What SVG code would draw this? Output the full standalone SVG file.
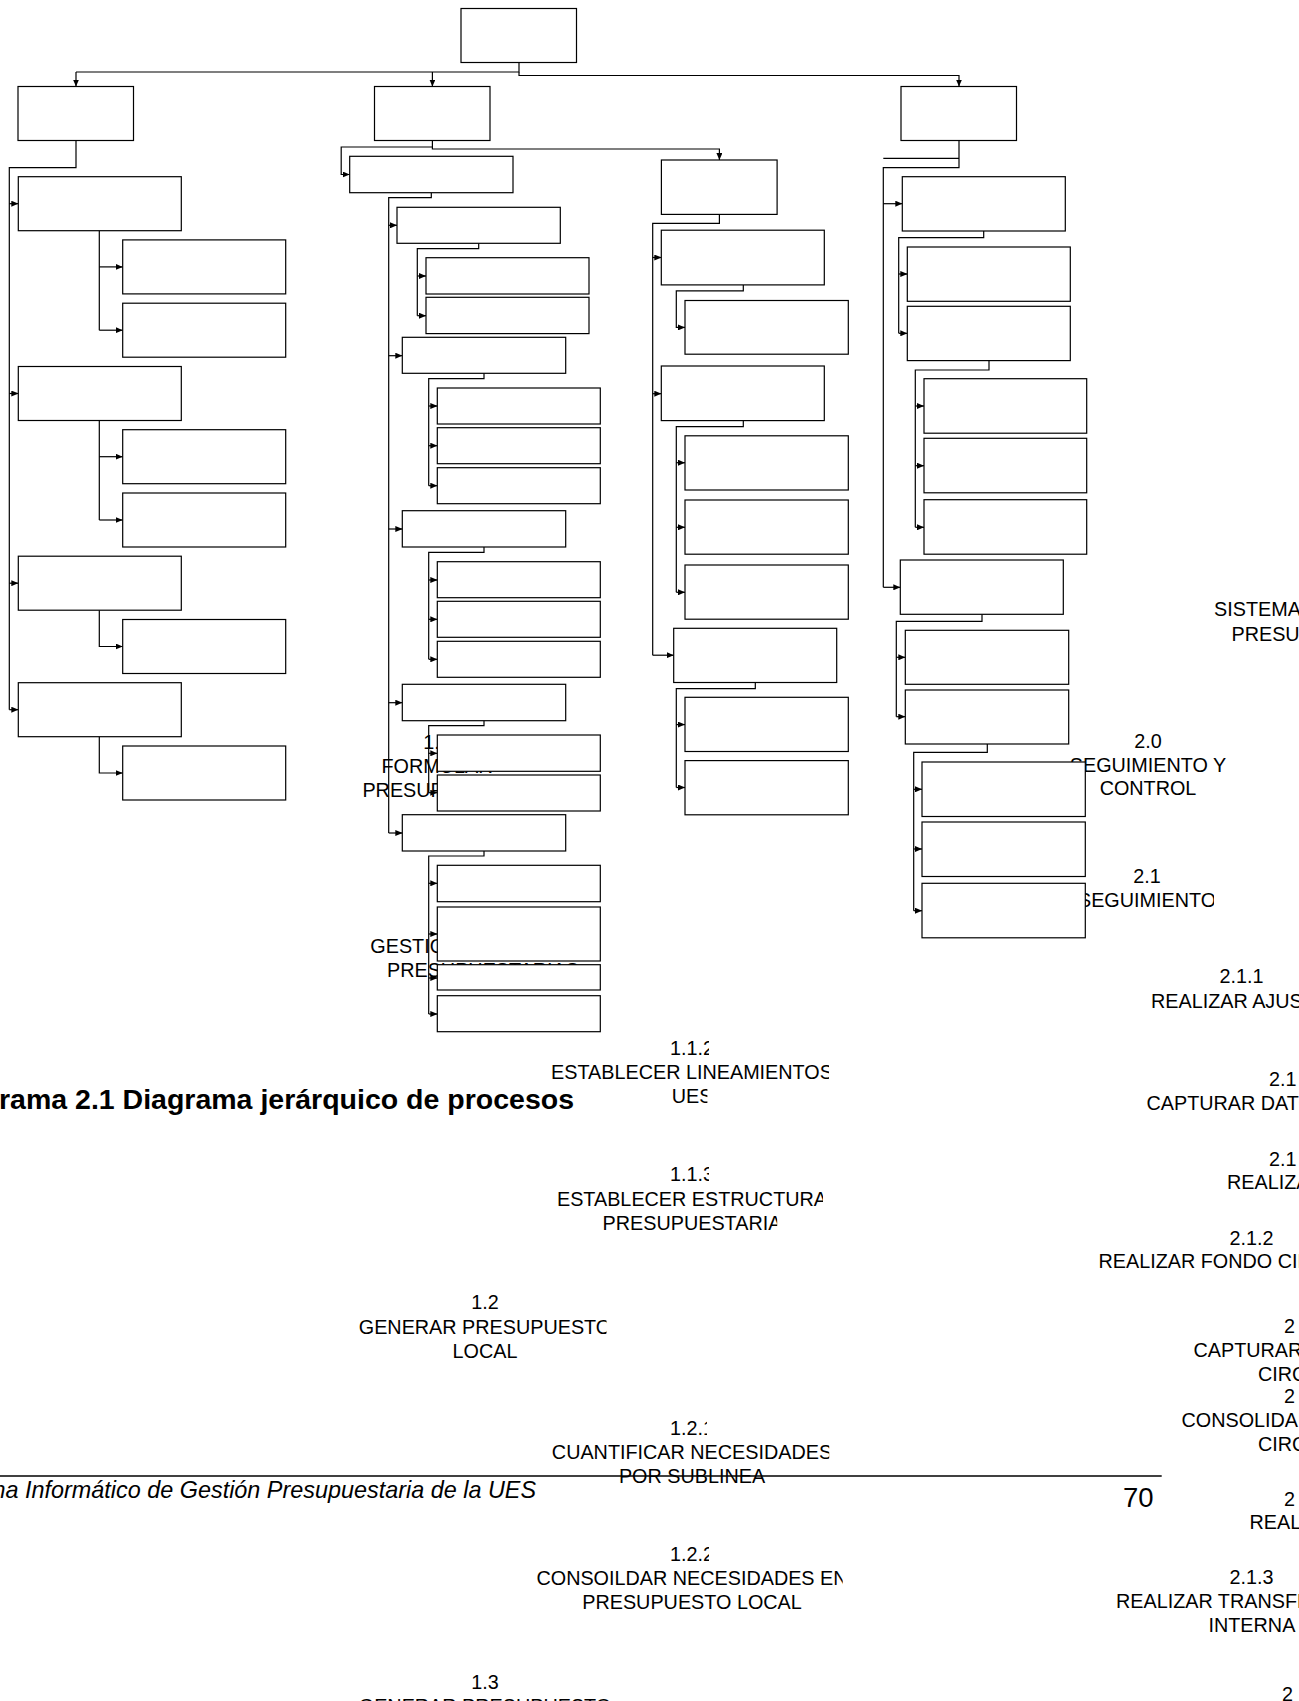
<svg xmlns="http://www.w3.org/2000/svg" width="1299" height="1701" viewBox="0 0 1299 1701">
  <defs>
    <marker id="ah" viewBox="0 0 7 6" refX="7" refY="3" markerWidth="7" markerHeight="6" markerUnits="userSpaceOnUse" orient="auto">
      <path d="M0,0 L7,3 L0,6 z" fill="#000"/>
    </marker>
    <!-- each label line is cut a little short on its right side -->
    <clipPath id="k112"><rect x="0" y="1030" width="709" height="30"/></clipPath>
    <clipPath id="klin"><rect x="0" y="1058" width="829" height="28"/></clipPath>
    <clipPath id="kues"><rect x="0" y="1083" width="707.4" height="28"/></clipPath>
    <clipPath id="k113"><rect x="0" y="1160" width="709" height="28"/></clipPath>
    <clipPath id="kest"><rect x="0" y="1185" width="823" height="28"/></clipPath>
    <clipPath id="kpre"><rect x="0" y="1209" width="777.2" height="28"/></clipPath>
    <clipPath id="kgen"><rect x="0" y="1313" width="606.5" height="28"/></clipPath>
    <clipPath id="k121"><rect x="0" y="1414" width="707" height="28"/></clipPath>
    <clipPath id="kcua"><rect x="0" y="1438" width="829.2" height="28"/></clipPath>
    <clipPath id="k122"><rect x="0" y="1540" width="709" height="28"/></clipPath>
    <clipPath id="kcon"><rect x="0" y="1564" width="842.7" height="28"/></clipPath>
    <clipPath id="kseg"><rect x="0" y="886" width="1214" height="28"/></clipPath>
  </defs>
  <style>
    .n rect { fill: #fff; stroke: #000; stroke-width: 1.2; }
    .c path { fill: none; stroke: #000; stroke-width: 1.2; }
    .c .a { marker-end: url(#ah); }
    .t { font-family: "Liberation Sans", Arial, sans-serif; font-size: 19.8px; fill: #000; }
    .m { text-anchor: middle; }
    .title { font-family: "Liberation Sans", Arial, sans-serif; font-size: 28.5px; font-weight: bold; text-anchor: end; fill: #000; }
    .foot { font-family: "Liberation Sans", Arial, sans-serif; font-size: 23.4px; font-style: italic; text-anchor: end; fill: #000; }
    .page { font-family: "Liberation Sans", Arial, sans-serif; font-size: 27.5px; fill: #000; }
  </style>
  <rect width="1299" height="1701" fill="#fff"/>

  <!-- process labels (set beneath the boxes) -->
  <g id="labels">
    <g class="t m">
      <text x="437" y="748.5">1.0</text>
      <text x="437" y="772.5">FORMULAR</text>
      <text x="437" y="796.5">PRESUPUESTO</text>
      <text x="483" y="953.3">GESTIONAR POLITICAS</text>
      <text x="483" y="977.3">PRESUPUESTARIAS</text>
      <text x="692" y="1054.5" clip-path="url(#k112)">1.1.2</text>
      <text x="692" y="1078.8" clip-path="url(#klin)">ESTABLECER LINEAMIENTOS</text>
      <text x="692" y="1103" clip-path="url(#kues)">UES</text>
      <text x="692" y="1181" clip-path="url(#k113)">1.1.3</text>
      <text x="692" y="1205.5" clip-path="url(#kest)">ESTABLECER ESTRUCTURA</text>
      <text x="692" y="1229.7" clip-path="url(#kpre)">PRESUPUESTARIA</text>
      <text x="485" y="1309">1.2</text>
      <text x="485" y="1333.5" clip-path="url(#kgen)">GENERAR PRESUPUESTO</text>
      <text x="485" y="1357.5">LOCAL</text>
      <text x="692" y="1435" clip-path="url(#k121)">1.2.1</text>
      <text x="692" y="1459" clip-path="url(#kcua)">CUANTIFICAR NECESIDADES</text>
      <text x="692" y="1483">POR SUBLINEA</text>
      <text x="692" y="1561" clip-path="url(#k122)">1.2.2</text>
      <text x="692" y="1585" clip-path="url(#kcon)">CONSOILDAR NECESIDADES EN</text>
      <text x="692" y="1609">PRESUPUESTO LOCAL</text>
      <text x="485" y="1688.5">1.3</text>
      <text x="485" y="1712.5">GENERAR PRESUPUESTO</text>
      <text x="1148" y="747.5">2.0</text>
      <text x="1148" y="771.5">SEGUIMIENTO Y</text>
      <text x="1148" y="795">CONTROL</text>
      <text x="1147" y="883">2.1</text>
      <text x="1147" y="906.5" clip-path="url(#kseg)">SEGUIMIENTO</text>
    </g>
    <g class="t">
      <text x="1214" y="616">SISTEMA</text>
      <text x="1231.5" y="640.7">PRESUPUESTARIO</text>
      <text x="1219.5" y="983.3">2.1.1</text>
      <text x="1151" y="1007.7">REALIZAR AJUSTES</text>
      <text x="1269" y="1086.4">2.1</text>
      <text x="1146.5" y="1110">CAPTURAR DATOS</text>
      <text x="1269" y="1165.5">2.1</text>
      <text x="1227" y="1189">REALIZAR</text>
      <text x="1229.5" y="1244.5">2.1.2</text>
      <text x="1098.5" y="1268">REALIZAR FONDO CIRCULANTE</text>
      <text x="1284" y="1333">2</text>
      <text x="1193.5" y="1357">CAPTURAR</text>
      <text x="1258" y="1381">CIRCULANTE</text>
      <text x="1284" y="1403">2</text>
      <text x="1181.5" y="1427">CONSOLIDAR</text>
      <text x="1258" y="1451">CIRCULANTE</text>
      <text x="1284" y="1505.5">2</text>
      <text x="1249.5" y="1529">REALIZAR</text>
      <text x="1229.5" y="1584">2.1.3</text>
      <text x="1116" y="1608">REALIZAR TRANSFERENCIAS</text>
      <text x="1208.5" y="1632">INTERNA</text>
      <text x="1282" y="1701">2</text>
    </g>
    <text class="title" x="574" y="1109">Diagrama 2.1 Diagrama jerárquico de procesos</text>
    <text class="foot" x="536" y="1497.5">Sistema Informático de Gestión Presupuestaria de la UES</text>
    <text class="page" x="1123" y="1507">70</text>
  </g>

  <!-- page footer rule -->
  <path d="M0,1476 H1161.7" stroke="#000" stroke-width="1.6" fill="none"/>

  <!-- connectors -->
  <g id="connectors" class="c">
    <!-- root to level 1 -->
    <path d="M519,62.5 V72 H76"/>
    <path class="a" d="M76,72 V86.5"/>
    <path class="a" d="M432.4,72 V86.5"/>
    <path class="a" d="M519,72 V75.5 H959 V86.5"/>

    <!-- left branch -->
    <path d="M76,140.5 V167.7 H9.3 V709.7" stroke-width="1.6"/>
    <path class="a" d="M9.3,203.7 H18.3"/>
    <path class="a" d="M9.3,393.5 H18.3"/>
    <path class="a" d="M9.3,583.2 H18.3"/>
    <path class="a" d="M9.3,709.7 H18.3"/>
    <path d="M99.3,230.7 V330.2"/>
    <path class="a" d="M99.3,266.9 H122.7"/>
    <path class="a" d="M99.3,330.2 H122.7"/>
    <path d="M99.3,420.5 V520"/>
    <path class="a" d="M99.3,456.7 H122.7"/>
    <path class="a" d="M99.3,520 H122.7"/>
    <path class="a" d="M99.3,610.2 V646.5 H122.7"/>
    <path class="a" d="M99.3,736.7 V773 H122.7"/>

    <!-- middle branch -->
    <path class="a" d="M432.4,140.5 V147 H341.2 V174.5 H349.7"/>
    <path class="a" d="M432.4,147 V149 H719.4 V160"/>
    <path d="M431.3,192.7 V197.7 H388.7 V833" stroke-width="1.5"/>
    <path class="a" d="M388.7,225.3 H397"/>
    <path class="a" d="M388.7,355.7 H402.3"/>
    <path class="a" d="M388.7,529 H402.3"/>
    <path class="a" d="M388.7,702.7 H402.3"/>
    <path class="a" d="M388.7,833 H402.3"/>
    <path d="M478.7,243.3 V248.7 H417.3 V315.7"/>
    <path class="a" d="M417.3,276 H426"/>
    <path class="a" d="M417.3,315.7 H426"/>
    <path d="M484,373.3 V378.7 H428.7 V485.7"/>
    <path class="a" d="M428.7,406 H437.3"/>
    <path class="a" d="M428.7,445.7 H437.3"/>
    <path class="a" d="M428.7,485.7 H437.3"/>
    <path d="M484,547 V552.3 H428.7 V659.3"/>
    <path class="a" d="M428.7,580 H437.3"/>
    <path class="a" d="M428.7,619.3 H437.3"/>
    <path class="a" d="M428.7,659.3 H437.3"/>
    <path d="M484,720.7 V725.7 H428.7 V792.7"/>
    <path class="a" d="M428.7,753.3 H437.3"/>
    <path class="a" d="M428.7,792.7 H437.3"/>
    <path d="M484,851 V856 H428.7 V1014"/>
    <path class="a" d="M428.7,883.3 H437.3"/>
    <path class="a" d="M428.7,934 H437.3"/>
    <path class="a" d="M428.7,978 H437.3"/>
    <path class="a" d="M428.7,1014 H437.3"/>

    <!-- second middle branch -->
    <path d="M719.4,214.4 V223.3 H652.7 V655.2" stroke-width="1.5"/>
    <path class="a" d="M652.7,257.5 H661.3"/>
    <path class="a" d="M652.7,393.7 H661.3"/>
    <path class="a" d="M652.7,655.2 H673.7"/>
    <path class="a" d="M743.3,284.9 V290.9 H676.3 V327.4 H685"/>
    <path d="M743.3,420.6 V426.7 H676.3 V592.3"/>
    <path class="a" d="M676.3,462.7 H685"/>
    <path class="a" d="M676.3,527.3 H685"/>
    <path class="a" d="M676.3,592.3 H685"/>
    <path d="M755.3,682.5 V688.6 H676.3 V787.5"/>
    <path class="a" d="M676.3,724.6 H685"/>
    <path class="a" d="M676.3,787.5 H685"/>

    <!-- right branch -->
    <path d="M959,140.5 V167.7 H883.3 V587.3"/>
    <path d="M959,158.3 H883.3"/>
    <path class="a" d="M883.3,203.7 H902.3"/>
    <path class="a" d="M883.3,587.3 H900.3"/>
    <path d="M983.7,231 V237.7 H898.7 V333.3" stroke-width="1.5"/>
    <path class="a" d="M898.7,274 H907.3"/>
    <path class="a" d="M898.7,333.3 H907.3"/>
    <path d="M989,360.6 V370 H915.3 V527.3" stroke-width="1.5"/>
    <path class="a" d="M915.3,406 H924"/>
    <path class="a" d="M915.3,465.7 H924"/>
    <path class="a" d="M915.3,527.3 H924"/>
    <path d="M982,614.3 V621.3 H896.3 V716.7"/>
    <path class="a" d="M896.3,657.3 H905.3"/>
    <path class="a" d="M896.3,716.7 H905.3"/>
    <path d="M987.3,744 V752.3 H913.7 V910.7"/>
    <path class="a" d="M913.7,789.3 H922"/>
    <path class="a" d="M913.7,849 H922"/>
    <path class="a" d="M913.7,910.7 H922"/>
  </g>

  <!-- process boxes -->
  <g id="n-root" class="n"><rect x="461" y="8.5" width="115.5" height="54"/></g>

  <g id="n-1" class="n"><rect x="18" y="86.5" width="115.5" height="54"/></g>
  <g id="n-1-1" class="n"><rect x="18.3" y="176.7" width="163" height="54"/></g>
  <g id="n-1-1-1" class="n"><rect x="122.7" y="239.9" width="163" height="54"/></g>
  <g id="n-1-1-2" class="n"><rect x="122.7" y="303.2" width="163" height="54"/></g>
  <g id="n-1-2" class="n"><rect x="18.3" y="366.5" width="163" height="54"/></g>
  <g id="n-1-2-1" class="n"><rect x="122.7" y="429.7" width="163" height="54"/></g>
  <g id="n-1-2-2" class="n"><rect x="122.7" y="493" width="163" height="54"/></g>
  <g id="n-1-3" class="n"><rect x="18.3" y="556.2" width="163" height="54"/></g>
  <g id="n-1-3-1" class="n"><rect x="122.7" y="619.5" width="163" height="54"/></g>
  <g id="n-1-4" class="n"><rect x="18.3" y="682.7" width="163" height="54"/></g>
  <g id="n-1-4-1" class="n"><rect x="122.7" y="746" width="163" height="54"/></g>

  <g id="n-2" class="n"><rect x="374.5" y="86.5" width="115.5" height="54"/></g>
  <g id="n-2-1" class="n"><rect x="349.7" y="156.3" width="163.3" height="36.4"/></g>
  <g id="n-2-1-1" class="n"><rect x="397" y="207.3" width="163.3" height="36"/></g>
  <g id="n-2-1-1-1" class="n"><rect x="426" y="257.7" width="163" height="36.3"/></g>
  <g id="n-2-1-1-2" class="n"><rect x="426" y="297.3" width="163" height="36.3"/></g>
  <g id="n-2-1-2" class="n"><rect x="402.3" y="337.3" width="163.4" height="36"/></g>
  <g id="n-2-1-2-1" class="n"><rect x="437.3" y="388" width="163" height="36"/></g>
  <g id="n-2-1-2-2" class="n"><rect x="437.3" y="427.7" width="163" height="36"/></g>
  <g id="n-2-1-2-3" class="n"><rect x="437.3" y="467.7" width="163" height="36"/></g>
  <g id="n-2-1-3" class="n"><rect x="402.3" y="510.7" width="163.4" height="36.3"/></g>
  <g id="n-2-1-3-1" class="n"><rect x="437.3" y="561.7" width="163" height="36"/></g>
  <g id="n-2-1-3-2" class="n"><rect x="437.3" y="601.3" width="163" height="36"/></g>
  <g id="n-2-1-3-3" class="n"><rect x="437.3" y="641.3" width="163" height="36"/></g>
  <g id="n-2-1-4" class="n"><rect x="402.3" y="684.3" width="163.4" height="36.4"/></g>
  <g id="n-2-1-4-1" class="n"><rect x="437.3" y="735" width="163" height="36.3"/></g>
  <g id="n-2-1-4-2" class="n"><rect x="437.3" y="775" width="163" height="36"/></g>
  <g id="n-2-1-5" class="n"><rect x="402.3" y="814.7" width="163.4" height="36.3"/></g>
  <g id="n-2-1-5-1" class="n"><rect x="437.3" y="865.3" width="163" height="36.4"/></g>
  <g id="n-2-1-5-2" class="n"><rect x="437.3" y="907" width="163" height="54"/></g>
  <g id="n-2-1-5-3" class="n"><rect x="437.3" y="964.7" width="163" height="25.3"/></g>
  <g id="n-2-1-5-4" class="n"><rect x="437.3" y="995.7" width="163" height="36"/></g>

  <g id="n-2-2" class="n"><rect x="661.4" y="160" width="115.7" height="54.4"/></g>
  <g id="n-2-2-1" class="n"><rect x="661.3" y="230.2" width="163" height="54.7"/></g>
  <g id="n-2-2-1-1" class="n"><rect x="685" y="300.5" width="163.3" height="53.7"/></g>
  <g id="n-2-2-2" class="n"><rect x="661.3" y="366" width="163" height="54.6"/></g>
  <g id="n-2-2-2-1" class="n"><rect x="685" y="435.8" width="163.3" height="54.2"/></g>
  <g id="n-2-2-2-2" class="n"><rect x="685" y="500" width="163.3" height="54.2"/></g>
  <g id="n-2-2-2-3" class="n"><rect x="685" y="565" width="163.3" height="54.2"/></g>
  <g id="n-2-2-3" class="n"><rect x="673.7" y="628.3" width="163" height="54.2"/></g>
  <g id="n-2-2-3-1" class="n"><rect x="685" y="697.3" width="163.3" height="54.2"/></g>
  <g id="n-2-2-3-2" class="n"><rect x="685" y="760.6" width="163.3" height="54.2"/></g>

  <g id="n-3" class="n"><rect x="901" y="86.5" width="115.5" height="54"/></g>
  <g id="n-3-1" class="n"><rect x="902.3" y="176.7" width="163" height="54.3"/></g>
  <g id="n-3-1-1" class="n"><rect x="907.3" y="247" width="163" height="54.3"/></g>
  <g id="n-3-1-2" class="n"><rect x="907.3" y="306.3" width="163" height="54.3"/></g>
  <g id="n-3-1-2-1" class="n"><rect x="924" y="378.7" width="162.7" height="54.5"/></g>
  <g id="n-3-1-2-2" class="n"><rect x="924" y="438.3" width="162.7" height="54.5"/></g>
  <g id="n-3-1-2-3" class="n"><rect x="924" y="499.7" width="162.7" height="54.5"/></g>
  <g id="n-3-2" class="n"><rect x="900.3" y="560" width="163" height="54.3"/></g>
  <g id="n-3-2-1" class="n"><rect x="905.3" y="630.3" width="163.4" height="54"/></g>
  <g id="n-3-2-2" class="n"><rect x="905.3" y="690" width="163.4" height="54"/></g>
  <g id="n-3-2-2-1" class="n"><rect x="922" y="762" width="163.3" height="54.5"/></g>
  <g id="n-3-2-2-2" class="n"><rect x="922" y="822" width="163.3" height="54.5"/></g>
  <g id="n-3-2-2-3" class="n"><rect x="922" y="883.3" width="163.3" height="54.5"/></g>
</svg>
